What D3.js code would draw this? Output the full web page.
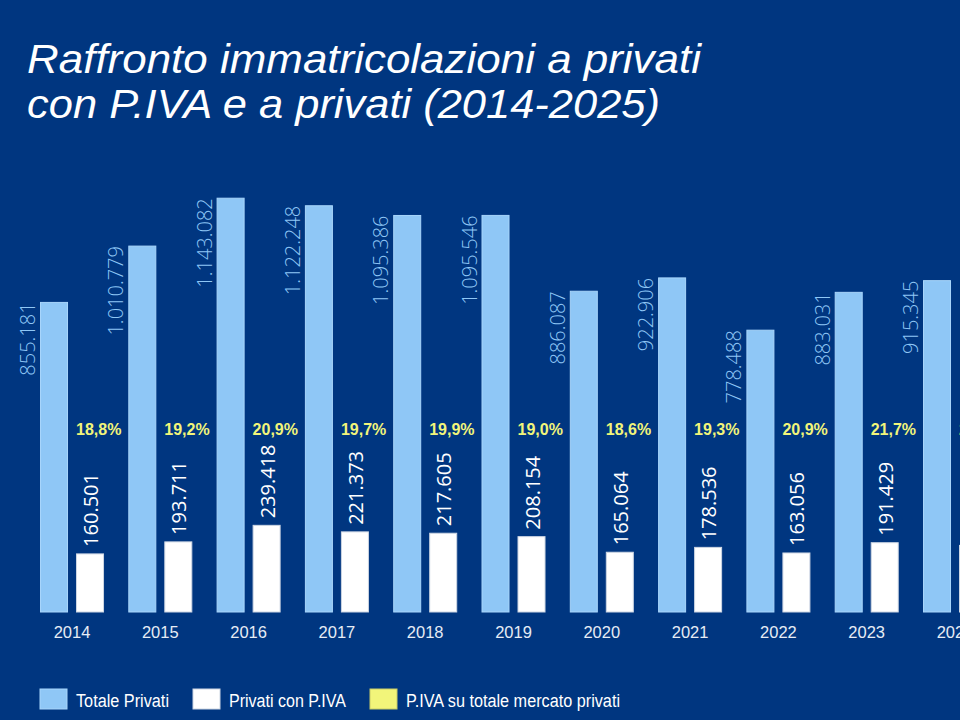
<!DOCTYPE html>
<html>
<head>
<meta charset="utf-8">
<script src="https://cdn.jsdelivr.net/npm/d3@7"></script>
<style>
  html, body { margin: 0; padding: 0; background: #003680; }
  svg { display: block; overflow: hidden; }
</style>
</head>
<body>
<svg id="chart" width="960" height="720"></svg>
<script>
const years = ["2014","2015","2016","2017","2018","2019","2020","2021","2022","2023","2024"];
const totalePrivati = [855181, 1010779, 1143082, 1122248, 1095386, 1095546, 886087, 922906, 778488, 883031, 915345];
const privatiPIVA = [160501, 193711, 239418, 221373, 217605, 208154, 165064, 178536, 163056, 191429, 184000];
const quotaPIVA = ["18,8%","19,2%","20,9%","19,7%","19,9%","19,0%","18,6%","19,3%","20,9%","21,7%","20,1%"];
const legendLabels = ["Totale Privati", "Privati con P.IVA", "P.IVA su totale mercato privati"];
const titleLines = ["Raffronto immatricolazioni a privati", "con P.IVA e a privati (2014-2025)"];

const BG = "#003680", LIGHT = "#8fc7f6", WHITE = "#ffffff", YELLOW = "#f2f57a";

const svg = d3.select("#chart");
svg.append("rect").attr("width", 960).attr("height", 720).attr("fill", BG);

const it = d3.formatLocale({thousands: ".", decimal: ",", grouping: [3], currency: ["€", ""]});
const fmt = it.format(",d");

const rows = years.map((y, i) => ({year: y, tot: totalePrivati[i], iva: privatiPIVA[i], pct: quotaPIVA[i]}));

const step = 88.3, pIn = 0.275;
const x = d3.scaleBand().domain(years).range([40, 40 + step * (years.length - pIn)]).paddingInner(pIn).paddingOuter(0);
const xs = d3.scaleBand().domain(["tot", "iva"]).range([0, x.bandwidth()]).paddingInner(0.222);
const baseY = 612;
const y = d3.scaleLinear().domain([0, 1200000]).range([baseY, baseY - 1200000 * 3.62e-4]);

// Title
svg.append("g").selectAll("text").data(titleLines).join("text")
  .attr("x", 27).attr("y", (d, i) => 73 + i * 45)
  .attr("fill", "#ffffff")
  .attr("font-family", "'Liberation Sans', Arial, sans-serif")
  .attr("font-style", "italic")
  .attr("font-size", 41)
  .attr("textLength", (d, i) => i === 0 ? 674 : 633)
  .attr("lengthAdjust", "spacingAndGlyphs")
  .text(d => d);

const g = svg.append("g");
const grp = g.selectAll("g.year").data(rows).join("g").attr("class", "year")
  .attr("transform", d => `translate(${x(d.year)},0)`);

// total bars
grp.append("rect")
  .attr("x", xs("tot") + 0.5).attr("width", xs.bandwidth() - 1)
  .attr("y", d => y(d.tot)).attr("height", d => baseY - y(d.tot))
  .attr("fill", LIGHT).attr("stroke", "#a8d5fb").attr("stroke-width", 1);

// piva bars
grp.append("rect")
  .attr("x", xs("iva") + 0.5).attr("width", xs.bandwidth() - 1)
  .attr("y", d => y(d.iva)).attr("height", d => baseY - y(d.iva))
  .attr("fill", WHITE).attr("stroke", "#cdd6e3").attr("stroke-width", 1);

// total labels (rotated, left of bar)
grp.append("text")
  .attr("transform", d => `translate(${xs("tot") - 5},${y(d.tot)}) rotate(-90)`)
  .attr("text-anchor", "end")
  .attr("fill", LIGHT)
  .attr("font-family", "'Open Sans', 'Noto Sans', sans-serif")
  .attr("font-weight", 300)
  .attr("font-size", 20)
  .text(d => fmt(d.tot));

// piva labels (rotated, above bar)
grp.append("text")
  .attr("transform", d => `translate(${xs("iva") + xs.bandwidth() / 2 + 8},${y(d.iva) - 7}) rotate(-90)`)
  .attr("text-anchor", "start")
  .attr("fill", WHITE)
  .attr("font-family", "'Open Sans', 'Noto Sans', sans-serif")
  .attr("font-weight", 400)
  .attr("font-size", 20)
  .text(d => fmt(d.iva));

// percentage labels
grp.append("text")
  .attr("x", xs("iva")).attr("y", 435)
  .attr("fill", YELLOW)
  .attr("font-family", "'Liberation Sans', Arial, sans-serif")
  .attr("font-weight", 700)
  .attr("font-size", 16)
  .text(d => d.pct);

// year labels
grp.append("text")
  .attr("x", x.bandwidth() / 2).attr("y", 638)
  .attr("text-anchor", "middle")
  .attr("fill", "#e6ecf5")
  .attr("font-family", "'Liberation Sans', Arial, sans-serif")
  .attr("font-size", 16.5)
  .text(d => d.year);

// Legend
const legendColors = [LIGHT, WHITE, YELLOW];
const legendX = [40, 193, 370];
const legendTextW = [93, 117, 214];
const lg = svg.append("g").selectAll("g").data(legendLabels).join("g")
  .attr("transform", (d, i) => `translate(${legendX[i]},689)`);
lg.append("rect").attr("width", 27).attr("height", 20)
  .attr("fill", (d, i) => legendColors[i])
  .attr("stroke", (d, i) => ["#a8d5fb", "#cdd6e3", "#c9cc66"][i]).attr("stroke-width", 1);
lg.append("text").attr("x", 36).attr("y", 18)
  .attr("fill", "#ffffff")
  .attr("font-family", "'Liberation Sans', Arial, sans-serif")
  .attr("font-size", 18)
  .attr("textLength", (d, i) => legendTextW[i])
  .attr("lengthAdjust", "spacingAndGlyphs")
  .text(d => d);
</script>
</body>
</html>
